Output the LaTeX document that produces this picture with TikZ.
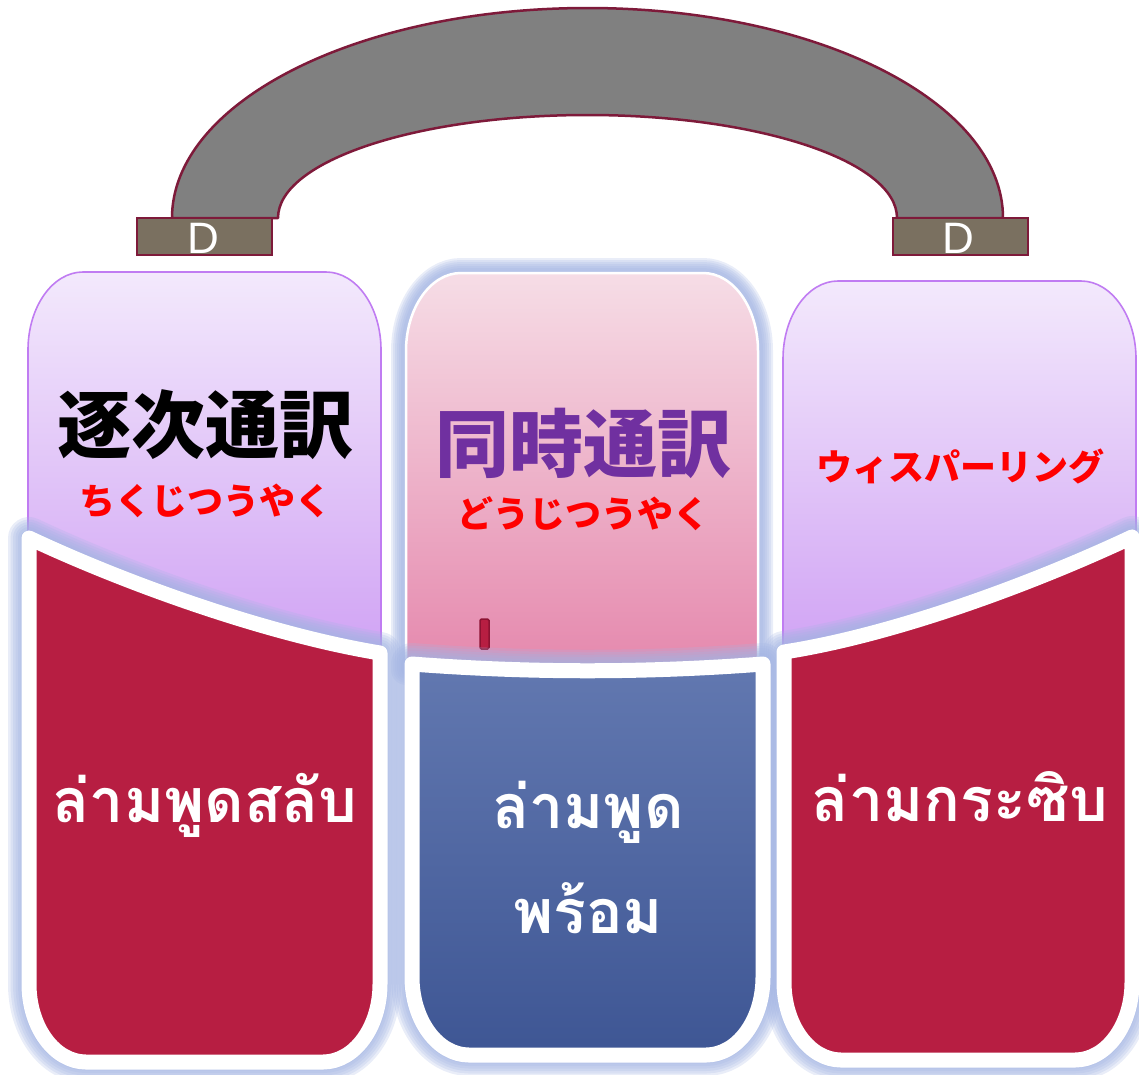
\documentclass[tikz,border=0pt]{standalone}
\usepackage{fontspec}
\setmainfont{Liberation Sans}
\newfontfamily\jpfont{Noto Sans CJK JP}
\newfontfamily\thaifont[Script=Thai]{Loma}

\definecolor{bandgray}{HTML}{808080}
\definecolor{bandedge}{HTML}{7E1A3A}
\definecolor{padfill}{HTML}{7A7060}
\definecolor{lilacTop}{HTML}{F3E9FC}
\definecolor{lilacBot}{HTML}{D0A2F4}
\definecolor{lilacEdge}{HTML}{C07CF2}
\definecolor{pinkTop}{HTML}{F6DDE6}
\definecolor{pinkBot}{HTML}{E588AD}
\definecolor{panelred}{HTML}{B71E42}
\definecolor{markedge}{HTML}{8C1232}
\definecolor{blueTop}{HTML}{6278B0}
\definecolor{blueBot}{HTML}{3E5694}
\definecolor{glowblue}{HTML}{A4B5E3}
\definecolor{jpurple}{HTML}{7030A0}

% upper cap with elliptical top corners: x0, x1, ytop, ybottom
\newcommand\capbox[4]{(#1,#4) -- (#1,#3+78)
  arc[start angle=180, end angle=270, x radius=55, y radius=78]
  -- (#2-55,#3)
  arc[start angle=270, end angle=360, x radius=55, y radius=78]
  -- (#2,#4) -- cycle}

% lower panel: curved top edge, rounded bottom corners
% #1,#2 top-left; #3,#4 top-right; #5,#6 curve controls; #7 bottom
\newcommand\lowpanel[7]{(#1,#2) .. controls (#5) and (#6) .. (#3,#4)
  -- (#3,#7-78)
  arc[start angle=0, end angle=90, x radius=57, y radius=78]
  -- (#1+57,#7)
  arc[start angle=90, end angle=180, x radius=57, y radius=78]
  -- cycle}

\begin{document}
\begin{tikzpicture}[x=1pt,y=-1pt,
  band/.style={fill=bandgray, draw=bandedge, line width=2.5pt, line join=round},
  pad/.style={fill=padfill, draw=bandedge, line width=2.5pt},
  padlabel/.style={text=white, inner sep=0pt, anchor=base, font=\fontsize{44}{48}\selectfont},
  lilacbox/.style={top color=lilacTop, bottom color=lilacBot, draw=lilacEdge, line width=1.6pt},
  pinkbox/.style={top color=pinkTop, bottom color=pinkBot, draw=white, line width=2.5pt},
  glow/.style={draw=glowblue, opacity=0.24, line join=round},
  redpanel/.style={fill=panelred, draw=white, line width=15pt, line join=round},
  bluepanel/.style={top color=blueTop, bottom color=blueBot, draw=white, line width=15pt, line join=round},
  jpbig/.style={inner sep=0pt, anchor=base, font=\jpfont\bfseries\fontsize{74}{80}\selectfont},
  jpsmall/.style={inner sep=0pt, anchor=base, text=red, font=\jpfont\bfseries\fontsize{36}{40}\selectfont},
  thai/.style={inner sep=0pt, anchor=base, text=white, font=\thaifont\bfseries\fontsize{61}{70}\selectfont}
]
\useasboundingbox (0,0) rectangle (1139,1074);

% headband
\draw[band] (172,218)
  arc[start angle=180, end angle=360, x radius=415.5, y radius=210]
  -- (897,218)
  arc[start angle=0, end angle=-180, x radius=309.5, y radius=103]
  -- cycle;
\draw[pad] (137,218) rectangle (272,255);
\draw[pad] (893,218) rectangle (1028,255);
\node[padlabel] (dl) at (203,253) {D};
\node[padlabel] (dr) at (958,253) {D};

% side caps
\draw[lilacbox] \capbox{28}{381}{272}{660};
\draw[lilacbox] \capbox{783}{1136}{281}{660};

% middle cap with glow
\foreach \w in {30,26,22,18,14,10}
  \draw[glow, line width=\w pt] \capbox{406}{758}{273}{670};
\draw[pinkbox] \capbox{406}{758}{273}{670};
\draw[fill=panelred, draw=markedge, line width=1.5pt, rounded corners=1.5pt]
  (480,619) rectangle (489,649);

% glow under the lower panels
\foreach \w in {42,37,32,27,22,17}{
  \draw[glow, line width=\w pt] \lowpanel{29}{538}{380}{653}{129,585}{270,635}{1062};
  \draw[glow, line width=\w pt] \lowpanel{412}{664}{763}{664}{530,673}{645,673}{1055};
  \draw[glow, line width=\w pt] \lowpanel{784}{652}{1132}{537}{894,635}{1032,584}{1060};
}
\draw[redpanel]  \lowpanel{29}{538}{380}{653}{129,585}{270,635}{1062};
\draw[bluepanel] \lowpanel{412}{664}{763}{664}{530,673}{645,673}{1055};
\draw[redpanel]  \lowpanel{784}{652}{1132}{537}{894,635}{1032,584}{1060};

% Japanese labels
\node[jpbig, text=black] (consec) at (205,452) {逐次通訳};
\node[jpsmall] (consecr) at (205,514) {ちくじつうやく};
\node[jpbig, text=jpurple] (simul) at (583,471) {同時通訳};
\node[jpsmall] (simulr) at (583,527) {どうじつうやく};
\node[jpsmall] (whisp) at (960,480) {ウィスパーリング};

% Thai labels
\node[thai] (thcons) at (205,822) {ล่ามพูดสลับ};
\node[thai] (thsim1) at (588,828) {ล่ามพูด};
\node[thai] (thsim2) at (588,933) {พร้อม};
\node[thai] (thwhis) at (960,821) {ล่ามกระซิบ};
\end{tikzpicture}
\end{document}
